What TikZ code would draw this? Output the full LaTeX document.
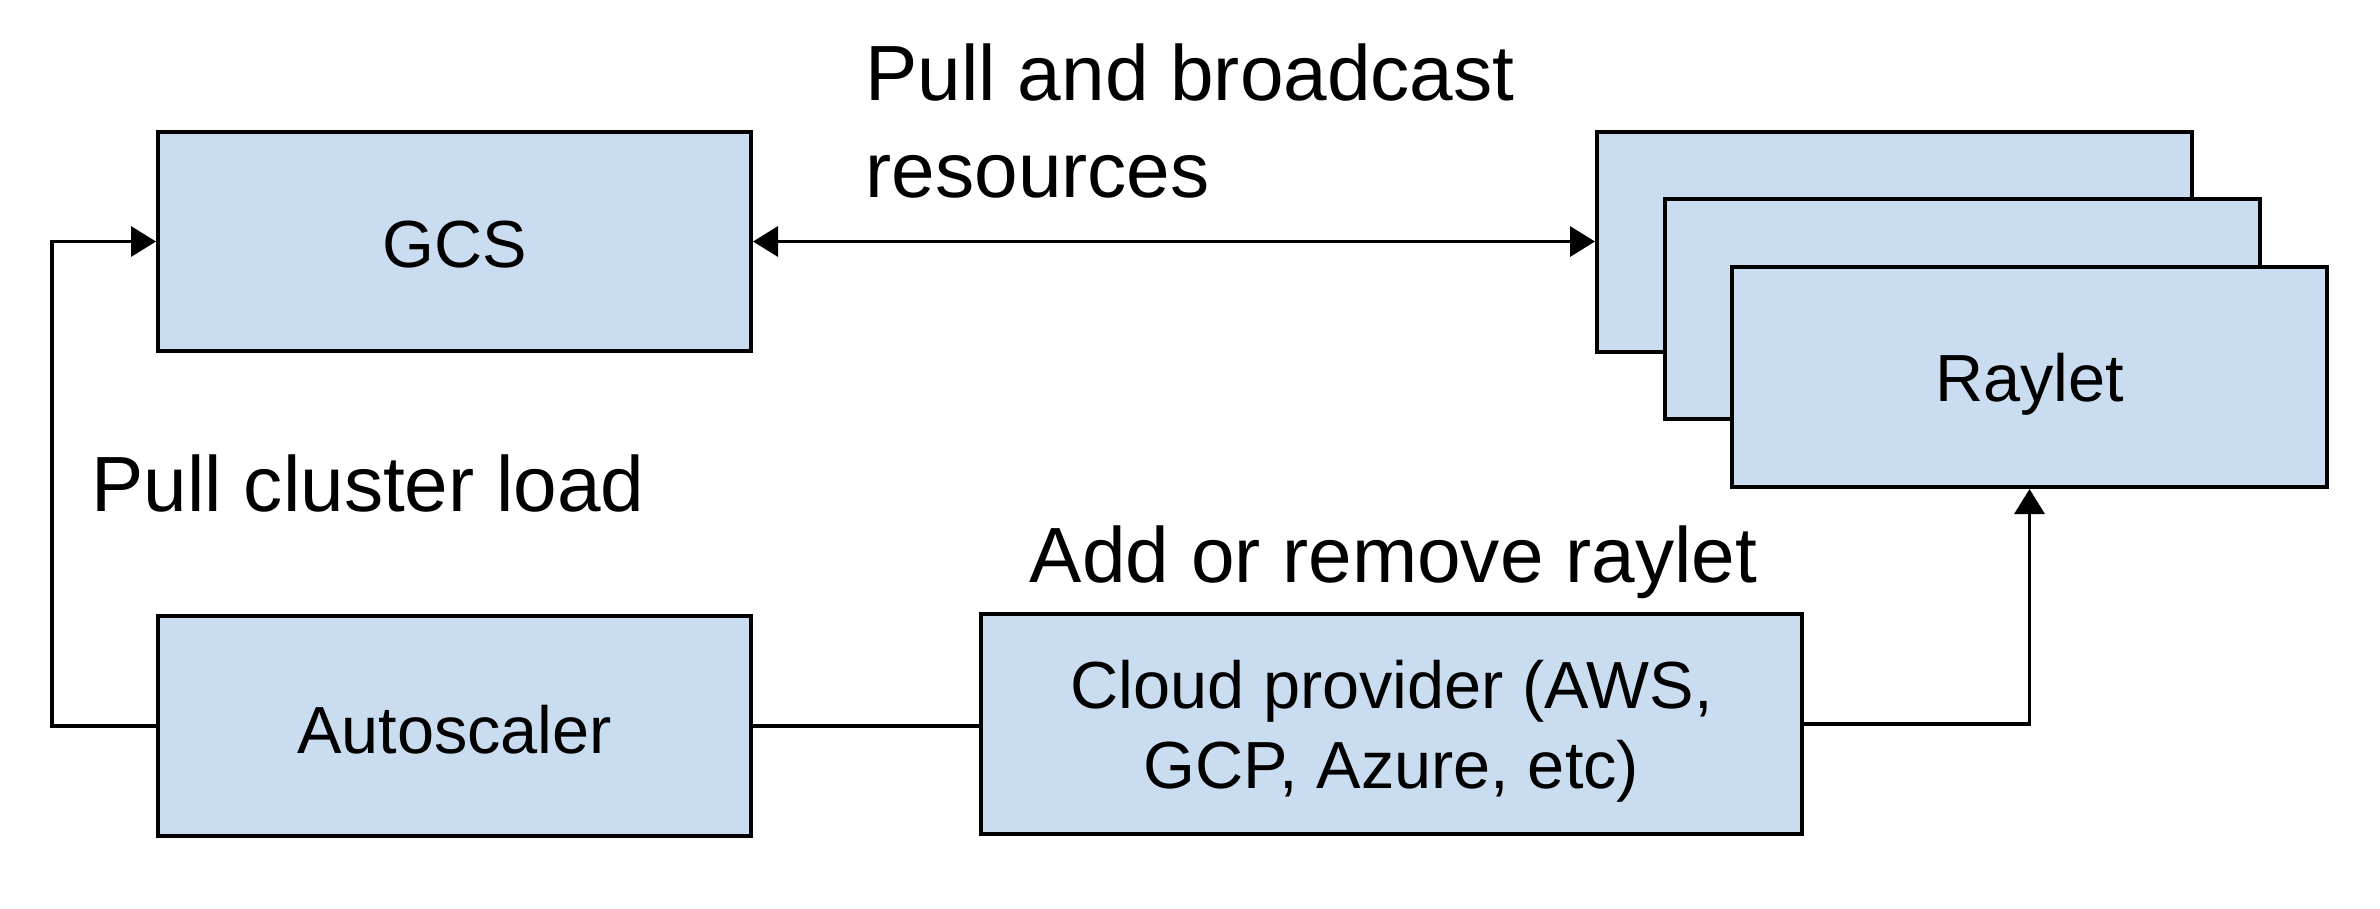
\documentclass[tikz,border=0pt]{standalone}
\usepackage{fontspec}
\setmainfont{Liberation Sans}
\usetikzlibrary{arrows.meta}
\definecolor{boxfill}{HTML}{CADCF0}
\tikzset{
  box/.style={draw=black, fill=boxfill, line width=1.2pt, rectangle, inner sep=0pt},
  txt/.style={inner sep=0pt, align=center, font=\fontsize{20}{24}\selectfont},
  lbl/.style={inner sep=0pt, align=left, font=\fontsize{23.5}{29}\selectfont},
  conn/.style={line width=1pt, line join=miter},
  tip/.style={-{Triangle[length=7.5pt,width=9pt]}},
}
\begin{document}
\begin{tikzpicture}[x=0.3pt,y=-0.3pt]
\useasboundingbox (0,0) rectangle (2380,908);
% boxes
\node[box, minimum width=177.9pt, minimum height=65.7pt] (gcs) at (454.5,241.5) {};
\node[box, minimum width=177.9pt, minimum height=66pt] (auto) at (454.5,726) {};
\node[box, minimum width=246.3pt, minimum height=66pt] (cloud) at (1391.5,724) {};
\node[box, minimum width=178.5pt, minimum height=66pt] (r1) at (1894.5,241.5) {};
\node[box, minimum width=178.5pt, minimum height=66pt] (r2) at (1962.5,309) {};
\node[box, minimum width=178.5pt, minimum height=66pt] (r3) at (2029.5,377) {};
% box texts
\node[txt] (gcst) at ([yshift=-1pt]gcs.center) {GCS};
\node[txt] (autot) at ([yshift=-1pt]auto.center) {Autoscaler};
\node[txt] (cloudt) at ([yshift=-2.2pt]cloud.center) {Cloud provider (AWS,\\GCP, Azure, etc)};
\node[txt] (r3t) at ([yshift=-2.2pt]r3.center) {Raylet};
% labels
\node[lbl, anchor=west] (lb1) at (865,121) {Pull and broadcast\\resources};
\node[lbl, anchor=west] (lb2) at (91,483) {Pull cluster load};
\node[lbl] (lb3) at (1393.5,562) {Add or remove raylet};
% connectors
\coordinate (lc) at (52,0);
\draw[conn, {Triangle[length=7.5pt,width=9pt]}-{Triangle[length=7.5pt,width=9pt]}] (gcs.east) -- (gcs.east -| r1.west);
\draw[conn, tip] (auto.west) -- (auto.west -| lc) -- (gcs.west -| lc) -- (gcs.west);
\draw[conn] (auto.east) -- (auto.east -| cloud.west);
\draw[conn, tip] (cloud.east) -| (r3.south);
\end{tikzpicture}
\end{document}
